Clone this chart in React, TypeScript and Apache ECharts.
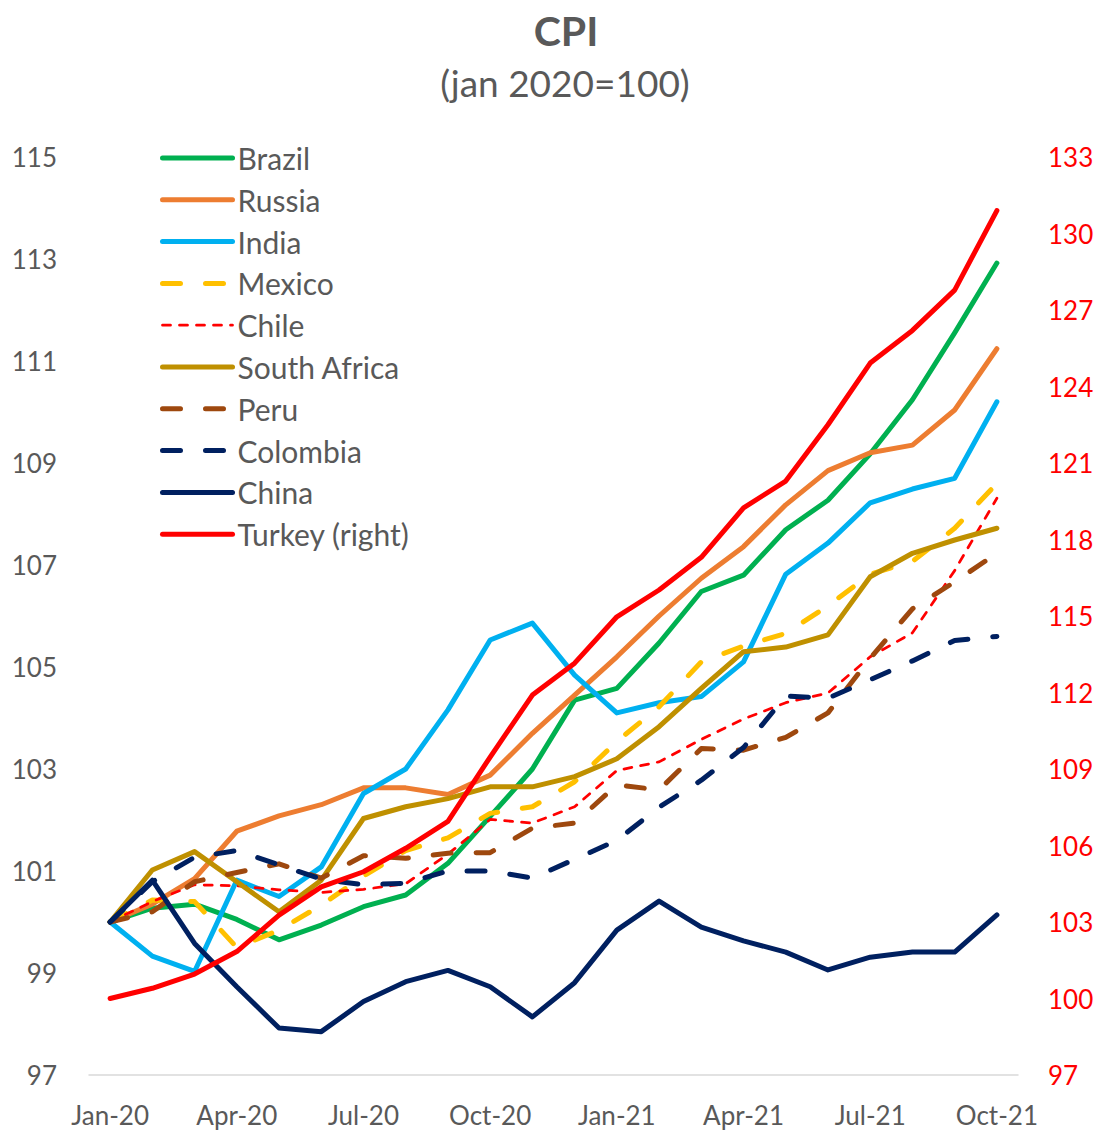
import React, { useEffect, useRef } from "react";
import * as echarts from "echarts";

const months = [
  "Jan-20", "Feb-20", "Mar-20", "Apr-20", "May-20", "Jun-20", "Jul-20", "Aug-20", "Sep-20", "Oct-20", "Nov-20", "Dec-20",
  "Jan-21", "Feb-21", "Mar-21", "Apr-21", "May-21", "Jun-21", "Jul-21", "Aug-21", "Sep-21", "Oct-21",
];

const brazil = [100, 100.27, 100.35, 100.05, 99.65, 99.94, 100.3, 100.53, 101.15, 102.07, 103.0, 104.35, 104.58, 105.47, 106.48, 106.8, 107.69, 108.27, 109.18, 110.24, 111.55, 112.92];
const russia = [100, 100.35, 100.85, 101.78, 102.08, 102.3, 102.63, 102.63, 102.5, 102.88, 103.7, 104.45, 105.2, 106.0, 106.74, 107.36, 108.18, 108.85, 109.2, 109.35, 110.04, 111.24];
const india = [100, 99.33, 99.03, 100.82, 100.5, 101.08, 102.52, 103.0, 104.16, 105.53, 105.86, 104.84, 104.1, 104.3, 104.42, 105.1, 106.82, 107.43, 108.22, 108.49, 108.7, 110.2];
const mexico = [100, 100.43, 100.4, 99.5, 99.84, 100.33, 100.9, 101.4, 101.65, 102.13, 102.26, 102.75, 103.54, 104.22, 105.1, 105.41, 105.66, 106.2, 106.82, 107.07, 107.72, 108.6];
const chile = [100, 100.4, 100.73, 100.71, 100.63, 100.58, 100.64, 100.75, 101.33, 102.01, 101.94, 102.26, 102.97, 103.14, 103.58, 103.98, 104.3, 104.49, 105.2, 105.67, 106.89, 108.31];
const southAfrica = [100, 101.02, 101.38, 100.79, 100.2, 100.82, 102.03, 102.26, 102.42, 102.65, 102.65, 102.85, 103.2, 103.83, 104.58, 105.3, 105.39, 105.63, 106.77, 107.23, 107.49, 107.72];
const peru = [100, 100.2, 100.79, 100.97, 101.14, 100.86, 101.3, 101.25, 101.35, 101.36, 101.84, 101.94, 102.69, 102.59, 103.4, 103.37, 103.62, 104.1, 105.17, 106.14, 106.67, 107.23];
const colombia = [100, 100.79, 101.27, 101.4, 101.12, 100.84, 100.73, 100.76, 101.0, 101.0, 100.86, 101.23, 101.6, 102.25, 102.78, 103.42, 104.43, 104.39, 104.75, 105.12, 105.52, 105.6];
const china = [100, 100.82, 99.58, 98.73, 97.92, 97.85, 98.44, 98.83, 99.05, 98.73, 98.14, 98.81, 99.84, 100.41, 99.9, 99.63, 99.41, 99.06, 99.31, 99.41, 99.41, 100.14];
const turkey = [100, 100.4, 100.96, 101.84, 103.27, 104.38, 104.97, 105.89, 106.95, 109.47, 111.9, 113.15, 114.97, 116.02, 117.3, 119.24, 120.29, 122.5, 124.92, 126.2, 127.78, 130.9];

const FONT = "Lato";
const GREY = "#595959";

export default function App() {
  const ref = useRef<HTMLDivElement>(null);
  useEffect(() => {
    if (!ref.current) return;
    const chart = echarts.init(ref.current, undefined, { renderer: "svg" });
    const mk = (name: string, data: number[], color: string, width: number, type: any, axis = 0) => ({
      name,
      type: "line",
      data,
      yAxisIndex: axis,
      symbol: "none",
      lineStyle: { color, width, type, cap: "round", join: "round" },
      itemStyle: { color },
    });
    const longDash = [18, 25];
    chart.setOption({
      animation: false,
      textStyle: { fontFamily: FONT },
      graphic: [
        {
          type: "text",
          x: 566,
          y: 30,
          style: { text: "CPI", align: "center", verticalAlign: "middle", font: `bold 41px ${FONT}`, fill: GREY },
        },
        {
          type: "text",
          x: 565,
          y: 82,
          style: { text: "(jan 2020=100)", align: "center", verticalAlign: "middle", font: `37px ${FONT}`, fill: GREY },
        },
      ],
      legend: {
        orient: "vertical",
        left: 155,
        top: 138,
        itemWidth: 70,
        itemHeight: 14,
        itemGap: 11.8,
        itemStyle: { opacity: 0 },
        lineStyle: { width: "inherit", cap: "round" },
        textStyle: { color: GREY, fontSize: 30, fontFamily: FONT, lineHeight: 30 },
        data: ["Brazil", "Russia", "India", "Mexico", "Chile", "South Africa", "Peru", "Colombia", "China", "Turkey (right)"],
      },
      grid: { left: 89, right: 79, top: 157, bottom: 56, containLabel: false },
      xAxis: {
        type: "category",
        data: months,
        boundaryGap: true,
        axisLine: { lineStyle: { color: "#d9d9d9", width: 1.5 } },
        axisTick: { interval: 2, length: 10, lineStyle: { color: "#d9d9d9", width: 1.5 } },
        axisLabel: { interval: 2, color: GREY, fontSize: 26, fontFamily: FONT, margin: 27 },
      },
      yAxis: [
        {
          type: "value",
          min: 97,
          max: 115,
          interval: 2,
          axisLine: { show: false },
          axisTick: { show: false },
          splitLine: { show: false },
          axisLabel: { color: GREY, fontSize: 26, fontFamily: FONT, margin: 32 },
        },
        {
          type: "value",
          min: 97,
          max: 133,
          interval: 3,
          position: "right",
          axisLine: { show: false },
          axisTick: { show: false },
          splitLine: { show: false },
          axisLabel: { color: "#FF0000", fontSize: 26, fontFamily: FONT, margin: 30 },
        },
      ],
      series: [
        mk("Brazil", brazil, "#00B050", 5, "solid"),
        mk("Russia", russia, "#ED7D31", 5, "solid"),
        mk("India", india, "#00B0F0", 5, "solid"),
        mk("Mexico", mexico, "#FFC000", 5, longDash),
        mk("Chile", chile, "#FF0000", 2.75, [8, 9]),
        mk("South Africa", southAfrica, "#BF9000", 5, "solid"),
        mk("Peru", peru, "#9E480E", 5, longDash),
        mk("Colombia", colombia, "#002060", 5, longDash),
        mk("China", china, "#002060", 5, "solid"),
        mk("Turkey (right)", turkey, "#FF0000", 5, "solid", 1),
      ],
    });
    return () => chart.dispose();
  }, []);
  return <div ref={ref} style={{ width: 1097, height: 1131, position: "absolute", left: 0, top: 0 }} />;
}
